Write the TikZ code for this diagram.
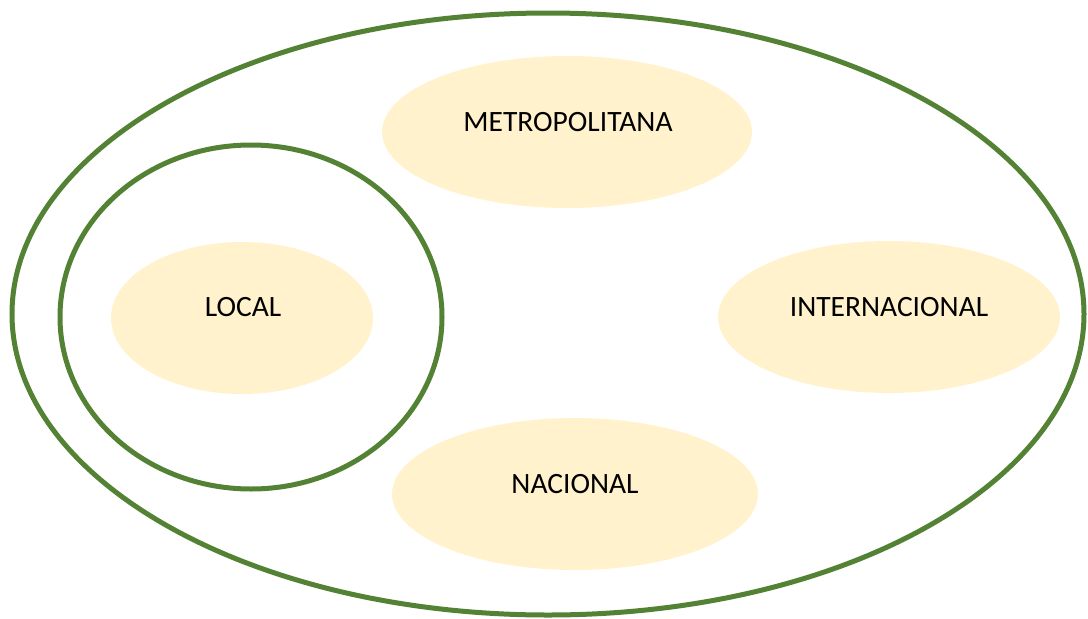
\documentclass[tikz,border=0pt]{standalone}
\usepackage{fontspec}
\setmainfont{Carlito}
\definecolor{ringgreen}{HTML}{548235}
\definecolor{blobfill}{HTML}{FFF2CC}
\begin{document}
\begin{tikzpicture}[x=1pt,y=-1pt,
  ring/.style={draw=ringgreen,line width=5pt},
  blob/.style={fill=blobfill,draw=none},
  lbl/.style={font=\fontsize{29.5}{31}\selectfont,text=black,inner sep=0pt,anchor=base}]
\useasboundingbox (0,0) rectangle (1088,619);
\draw[ring] (548,314) ellipse [x radius=536, y radius=301];
\draw[ring] (251,317) ellipse [x radius=191, y radius=172];
\fill[blob] (567,132) ellipse [x radius=185, y radius=76];
\fill[blob] (242,318) ellipse [x radius=131, y radius=76];
\fill[blob] (889,317) ellipse [x radius=171, y radius=76];
\fill[blob] (575,494) ellipse [x radius=183, y radius=76];
\node[lbl] (metro) at (568,131) {METROPOLITANA};
\node[lbl] (local) at (243,316) {LOCAL};
\node[lbl] (inter) at (889,316) {INTERNACIONAL};
\node[lbl] (nac) at (575,493) {NACIONAL};
\end{tikzpicture}
\end{document}
